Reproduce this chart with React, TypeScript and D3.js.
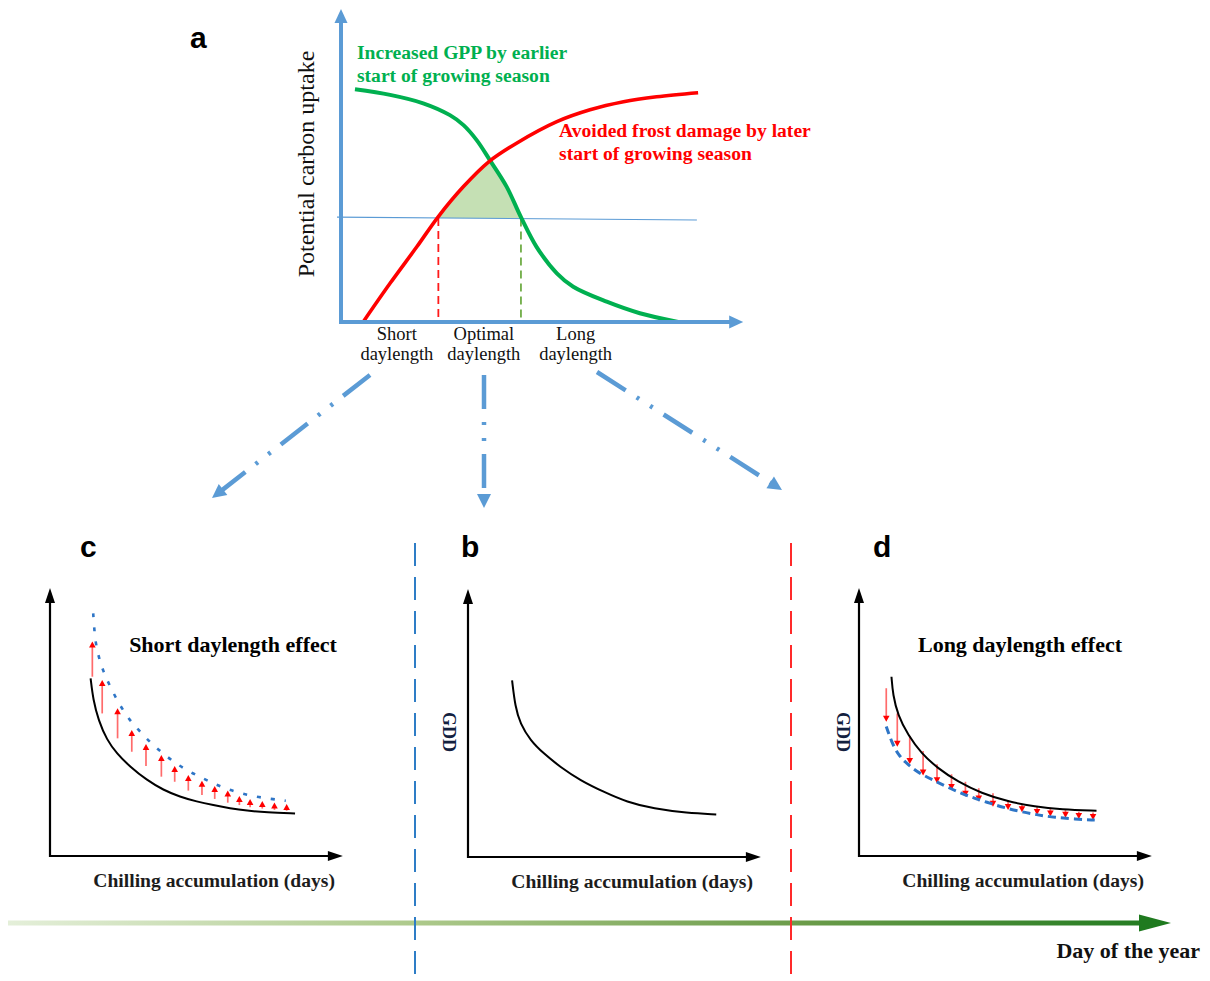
import { useEffect, useRef } from 'react';
import * as d3 from 'd3';

// ---- panel a: potential carbon uptake against daylength (schematic units 0-100)
const gppDay = [3.5, 12.3, 20.6, 27.3, 30.7, 34.0, 37.3, 41.5, 45.1, 49.0, 54.1, 58.2, 66.6, 74.9, 84.5];
const gppUptake = [74.6, 72.8, 70.1, 66.3, 63.1, 58.3, 51.9, 43.4, 33.6, 24.1, 15.6, 11.3, 6.5, 2.8, 0];
const frostDay = [5.6, 12.3, 19.0, 24.4, 30.7, 37.1, 44.0, 54.1, 62.4, 70.8, 79.1, 89.5];
const frostUptake = [0.1, 12.4, 24.1, 33.8, 43.4, 51.4, 57.3, 64.2, 68.0, 70.6, 72.2, 73.5];
const thresholdDay = [-1, 89.2];
const thresholdUptake = [33.6, 32.7];
const optimalBounds = [24.4, 45.1];
const daylengthNames = ['Short', 'Optimal', 'Long'];
const daylengthPos = [14.0, 35.8, 58.8];

// ---- panel b: GDD requirement against chilling
const bChill = [15.2, 16.3, 18.0, 21.5, 26.1, 31.8, 38.7, 46.8, 54.8, 64.0, 75.5, 85.6];
const bGdd = [65.9, 56.0, 49.8, 43.5, 38.6, 33.6, 28.6, 24.3, 20.5, 18.0, 16.4, 15.9];

// ---- panel c: short daylength effect
const cChill = [14.0, 14.9, 16.7, 19.6, 23.0, 27.6, 33.3, 39.1, 44.8, 50.6, 56.3, 62.1, 67.8, 74.7, 84.5];
const cGdd = [66.3, 58.2, 50.7, 43.3, 38.3, 33.3, 28.4, 24.6, 22.1, 20.3, 19.0, 17.8, 16.9, 16.3, 15.9];
const cShiftChill = [14.9, 15.2, 15.7, 16.9, 18.4, 20.5, 22.8, 25.3, 28.2, 31.6, 35.1, 39.1, 43.1, 47.4, 52.0, 56.3, 60.9, 65.9, 71.0, 76.2, 81.3];
const cShiftGdd = [90.5, 85.6, 79.6, 73.8, 68.8, 63.8, 58.8, 54.2, 49.7, 45.8, 41.8, 38.1, 34.8, 31.8, 29.4, 27.1, 25.0, 23.4, 22.1, 21.3, 20.6];
const cArrowChill = [14.6, 18.0, 23.3, 28.2, 33.1, 38.4, 43.0, 47.7, 52.4, 56.8, 61.3, 65.3, 69.0, 73.2, 77.4, 81.6];
const cArrowFrom = [66.9, 53.2, 43.9, 38.9, 33.6, 29.6, 27.7, 24.4, 22.8, 21.3, 19.9, 19.0, 18.2, 17.7, 17.2, 16.9];
const cArrowTo = [80.0, 65.7, 55.1, 47.0, 41.8, 37.7, 33.6, 30.2, 28.1, 26.1, 24.4, 22.4, 21.3, 20.5, 20.0, 19.4];

// ---- panel d: long daylength effect
const dChill = [11.2, 11.7, 13.4, 16.9, 21.5, 27.2, 34.1, 42.2, 51.4, 60.6, 69.8, 81.9];
const dGdd = [66.9, 60.1, 52.6, 45.1, 38.3, 32.7, 27.7, 23.4, 20.3, 18.4, 17.4, 16.9];
const dShiftChill = [9.4, 11.2, 13.5, 16.9, 20.9, 25.5, 30.1, 35.3, 39.9, 45.1, 50.2, 56.0, 61.7, 67.5, 74.4, 81.3];
const dShiftGdd = [48.3, 42.7, 37.7, 34.0, 30.8, 28.4, 25.9, 23.4, 21.5, 19.7, 18.0, 16.5, 15.3, 14.4, 13.8, 13.4];
const dArrowChill = [9.4, 13.2, 17.5, 22.1, 26.9, 31.9, 36.7, 41.3, 46.2, 51.4, 56.2, 61.4, 66.0, 71.2, 75.8, 80.7];
const dArrowFrom = [62.6, 53.2, 44.8, 39.2, 34.2, 30.5, 27.7, 25.3, 23.4, 20.9, 19.3, 18.4, 18.0, 17.2, 16.5, 16.2];
const dArrowTo = [50.1, 40.8, 34.3, 30.0, 27.1, 24.6, 22.1, 20.3, 18.4, 17.2, 16.3, 15.3, 14.7, 14.3, 13.8, 13.4];

const SERIF = '"Liberation Serif", "Times New Roman", serif';
const SANS = '"Liberation Sans", Arial, sans-serif';
const AXIS_BLUE = '#5b9bd5';

const zip = (xs: number[], ys: number[]) => xs.map((x, i) => [x, ys[i]] as [number, number]);

function head(g: any, x: number, y: number, angle: number, len: number, half: number, color: string) {
  const bx = x - len * Math.cos(angle);
  const by = y - len * Math.sin(angle);
  const px = -Math.sin(angle) * half;
  const py = Math.cos(angle) * half;
  g.append('path')
    .attr('d', `M${x},${y}L${bx + px},${by + py}L${bx - px},${by - py}Z`)
    .attr('fill', color);
}

export default function App() {
  const svgRef = useRef<SVGSVGElement>(null);

  useEffect(() => {
    if (!svgRef.current) return;
    const svg = d3.select(svgRef.current);
    svg.selectAll('*').remove();
    const defs = svg.append('defs');

    // ================= panel a =================
    const xA = d3.scaleLinear().domain([0, 100]).range([341, 740]);
    const yA = d3.scaleLinear().domain([0, 100]).range([322, 10]);
    const thr = d3.scaleLinear().domain(thresholdDay).range(thresholdUptake);
    const curve = d3.curveCatmullRom.alpha(0.5);
    const lineA = d3.line<[number, number]>().x(d => xA(d[0])).y(d => yA(d[1])).curve(curve);
    const areaA = d3.area<[number, number]>().x(d => xA(d[0])).y0(yA(0)).y1(d => yA(d[1])).curve(curve);
    const gpp = zip(gppDay, gppUptake);
    const frost = zip(frostDay, frostUptake);

    defs.append('clipPath').attr('id', 'underGreen').append('path').attr('d', areaA(gpp));
    defs
      .append('clipPath')
      .attr('id', 'aboveThr')
      .append('path')
      .attr(
        'd',
        d3.area<number>().x(d => xA(d)).y0(d => yA(thr(d))).y1(yA(100))(thresholdDay)
      );

    const a = svg.append('g');
    a.append('g')
      .attr('clip-path', 'url(#aboveThr)')
      .append('path')
      .attr('d', areaA(frost))
      .attr('clip-path', 'url(#underGreen)')
      .attr('fill', '#c5e0b4');

    a.append('line')
      .attr('x1', xA(thresholdDay[0]))
      .attr('y1', yA(thresholdUptake[0]))
      .attr('x2', xA(thresholdDay[1]))
      .attr('y2', yA(thresholdUptake[1]))
      .attr('stroke', AXIS_BLUE)
      .attr('stroke-width', 1.2);

    optimalBounds.forEach((b, i) => {
      a.append('line')
        .attr('x1', xA(b))
        .attr('x2', xA(b))
        .attr('y1', yA(thr(b)))
        .attr('y2', yA(0))
        .attr('stroke', i === 0 ? '#ff1a1a' : '#70ad47')
        .attr('stroke-width', 1.8)
        .attr('stroke-dasharray', '8 5');
    });

    a.append('path').attr('d', lineA(gpp)).attr('fill', 'none').attr('stroke', '#00b050').attr('stroke-width', 4);
    a.append('path').attr('d', lineA(frost)).attr('fill', 'none').attr('stroke', '#ff0000').attr('stroke-width', 3.6);

    // axes of panel a
    a.append('line')
      .attr('x1', xA(0)).attr('y1', yA(0) + 2)
      .attr('x2', xA(0)).attr('y2', yA(100) + 10)
      .attr('stroke', AXIS_BLUE).attr('stroke-width', 4);
    head(a, xA(0), yA(100) - 1, -Math.PI / 2, 14, 6.5, AXIS_BLUE);
    a.append('line')
      .attr('x1', xA(0) - 2).attr('y1', yA(0))
      .attr('x2', xA(100.8) - 10).attr('y2', yA(0))
      .attr('stroke', AXIS_BLUE).attr('stroke-width', 4);
    head(a, xA(100.8), yA(0), 0, 14, 6.5, AXIS_BLUE);

    a.append('text')
      .attr('transform', 'translate(314,164) rotate(-90)')
      .attr('text-anchor', 'middle')
      .style('font-family', SERIF)
      .style('font-size', '24px')
      .attr('fill', '#111')
      .text('Potential  carbon uptake');

    const greenText = a.append('text').attr('fill', '#00b050').style('font-family', SERIF)
      .style('font-size', '19.6px').style('font-weight', 'bold');
    greenText.append('tspan').attr('x', xA(4)).attr('y', 59).text('Increased GPP by earlier');
    greenText.append('tspan').attr('x', xA(4)).attr('y', 82).text('start of growing season');
    const redText = a.append('text').attr('fill', '#ff0000').style('font-family', SERIF)
      .style('font-size', '19.6px').style('font-weight', 'bold');
    redText.append('tspan').attr('x', 559).attr('y', 137).text('Avoided frost damage by later');
    redText.append('tspan').attr('x', 559).attr('y', 160).text('start of growing season');

    daylengthNames.forEach((n, i) => {
      const t = a.append('text').attr('text-anchor', 'middle').style('font-family', SERIF)
        .style('font-size', '18.5px').attr('fill', '#111');
      t.append('tspan').attr('x', xA(daylengthPos[i])).attr('y', 340).text(n);
      t.append('tspan').attr('x', xA(daylengthPos[i])).attr('y', 360).text('daylength');
    });

    svg.append('text').attr('x', 190).attr('y', 48).style('font-family', SANS).style('font-size', '30px')
      .style('font-weight', 'bold').text('a');

    // connectors from panel a to the lower panels
    const connectors = [
      [[370, 375], [212, 498]],
      [[484, 375], [484, 508]],
      [[597, 372], [782, 490]],
    ];
    connectors.forEach(([[x1, y1], [x2, y2]]) => {
      const ang = Math.atan2(y2 - y1, x2 - x1);
      svg.append('line')
        .attr('x1', x1).attr('y1', y1)
        .attr('x2', x2 - 12 * Math.cos(ang)).attr('y2', y2 - 12 * Math.sin(ang))
        .attr('stroke', AXIS_BLUE).attr('stroke-width', 4.5)
        .attr('stroke-dasharray', '34 13 3 13 3 13');
      head(svg, x2, y2, ang, 14, 7, AXIS_BLUE);
    });

    // ================= lower panels =================
    const smooth = d3.curveBasis;
    const panel = (ox: number, oy: number) => {
      const x = d3.scaleLinear().domain([0, 100]).range([ox, ox + 290]);
      const y = d3.scaleLinear().domain([0, 100]).range([oy, oy - 268]);
      const g = svg.append('g');
      g.append('line').attr('x1', ox).attr('y1', oy + 1).attr('x2', ox).attr('y2', y(100) + 12)
        .attr('stroke', '#000').attr('stroke-width', 2.2);
      head(g, ox, y(100), -Math.PI / 2, 15, 5, '#000');
      g.append('line').attr('x1', ox - 1).attr('y1', oy).attr('x2', x(101) - 12).attr('y2', oy)
        .attr('stroke', '#000').attr('stroke-width', 2.2);
      head(g, x(101), oy, 0, 15, 5, '#000');
      const line = d3.line<[number, number]>().x(d => x(d[0])).y(d => y(d[1])).curve(smooth);
      g.append('text').attr('x', x(56.6)).attr('y', oy + 31).attr('text-anchor', 'middle')
        .style('font-family', SERIF).style('font-size', '19.6px').style('font-weight', 'bold')
        .attr('fill', '#1c1c1c').text('Chilling accumulation (days)');
      return { x, y, g, line };
    };

    const arrows = (p: any, xs: number[], from: number[], to: number[]) => {
      xs.forEach((cx, i) => {
        const y1 = p.y(from[i]);
        const y2 = p.y(to[i]);
        const dir = y2 < y1 ? -1 : 1;
        p.g.append('line').attr('x1', p.x(cx)).attr('x2', p.x(cx)).attr('y1', y1).attr('y2', y2 - dir * 4)
          .attr('stroke', '#ff6b6b').attr('stroke-width', 1.7);
        head(p.g, p.x(cx), y2, dir < 0 ? -Math.PI / 2 : Math.PI / 2, 6, 3.3, '#ff0000');
      });
    };

    const gddLabel = (bx: number, cy: number) => {
      svg.append('text').attr('transform', `translate(${bx},${cy}) rotate(90)`).attr('text-anchor', 'middle')
        .style('font-family', SERIF).style('font-size', '18px').style('font-weight', 'bold')
        .attr('fill', '#13213f').text('GDD');
    };

    const panelTitle = (cx: number, text: string) => {
      svg.append('text').attr('x', cx).attr('y', 652).attr('text-anchor', 'middle')
        .style('font-family', SERIF).style('font-size', '22px').style('font-weight', 'bold')
        .attr('fill', '#000').text(text);
    };

    // c
    const pc = panel(50, 856);
    arrows(pc, cArrowChill, cArrowFrom, cArrowTo);
    pc.g.append('path').attr('d', pc.line(zip(cShiftChill, cShiftGdd))).attr('fill', 'none')
      .attr('stroke', '#2e75c6').attr('stroke-width', 2.6).attr('stroke-dasharray', '4 10');
    pc.g.append('path').attr('d', pc.line(zip(cChill, cGdd))).attr('fill', 'none')
      .attr('stroke', '#000').attr('stroke-width', 2);
    panelTitle(233, 'Short daylength effect');

    // b
    const pb = panel(468, 857);
    pb.g.append('path').attr('d', pb.line(zip(bChill, bGdd))).attr('fill', 'none')
      .attr('stroke', '#000').attr('stroke-width', 2);
    gddLabel(443, 732);

    // d
    const pd = panel(859, 856);
    arrows(pd, dArrowChill, dArrowFrom, dArrowTo);
    pd.g.append('path').attr('d', pd.line(zip(dShiftChill, dShiftGdd))).attr('fill', 'none')
      .attr('stroke', '#2e75c6').attr('stroke-width', 3).attr('stroke-dasharray', '8 5');
    pd.g.append('path').attr('d', pd.line(zip(dChill, dGdd))).attr('fill', 'none')
      .attr('stroke', '#000').attr('stroke-width', 2);
    gddLabel(837, 732);
    panelTitle(1020, 'Long daylength effect');

    [['c', 80], ['b', 461], ['d', 873]].forEach(([l, x]) => {
      svg.append('text').attr('x', x as number).attr('y', 557).style('font-family', SANS)
        .style('font-size', '30px').style('font-weight', 'bold').text(l as string);
    });

    // ================= timeline =================
    const grad = defs.append('linearGradient').attr('id', 'doy').attr('gradientUnits', 'userSpaceOnUse')
      .attr('x1', 8).attr('x2', 1170).attr('y1', 0).attr('y2', 0);
    [[0, '#e4efd9'], [0.35, '#adc98b'], [0.68, '#6c9c4a'], [1, '#1f7a1f']].forEach(([o, c]) => {
      grad.append('stop').attr('offset', o as number).attr('stop-color', c as string);
    });
    svg.append('rect').attr('x', 8).attr('y', 920.5).attr('width', 1135).attr('height', 5).attr('fill', 'url(#doy)');
    head(svg, 1171, 923, 0, 32, 8.5, '#1f7a1f');

    [[415, '#2e7dc6'], [791, '#ff2a2a']].forEach(([x, c]) => {
      svg.append('line').attr('x1', x as number).attr('x2', x as number).attr('y1', 543).attr('y2', 975)
        .attr('stroke', c as string).attr('stroke-width', 2).attr('stroke-dasharray', '23 11');
    });

    svg.append('text').attr('x', 1200).attr('y', 958).attr('text-anchor', 'end')
      .style('font-family', SERIF).style('font-size', '22px').style('font-weight', 'bold')
      .attr('fill', '#111').text('Day of the year');
  }, []);

  return (
    <svg
      ref={svgRef}
      width={1210}
      height={981}
      style={{ position: 'absolute', left: 0, top: 0, background: '#fff' }}
    ></svg>
  );
}
